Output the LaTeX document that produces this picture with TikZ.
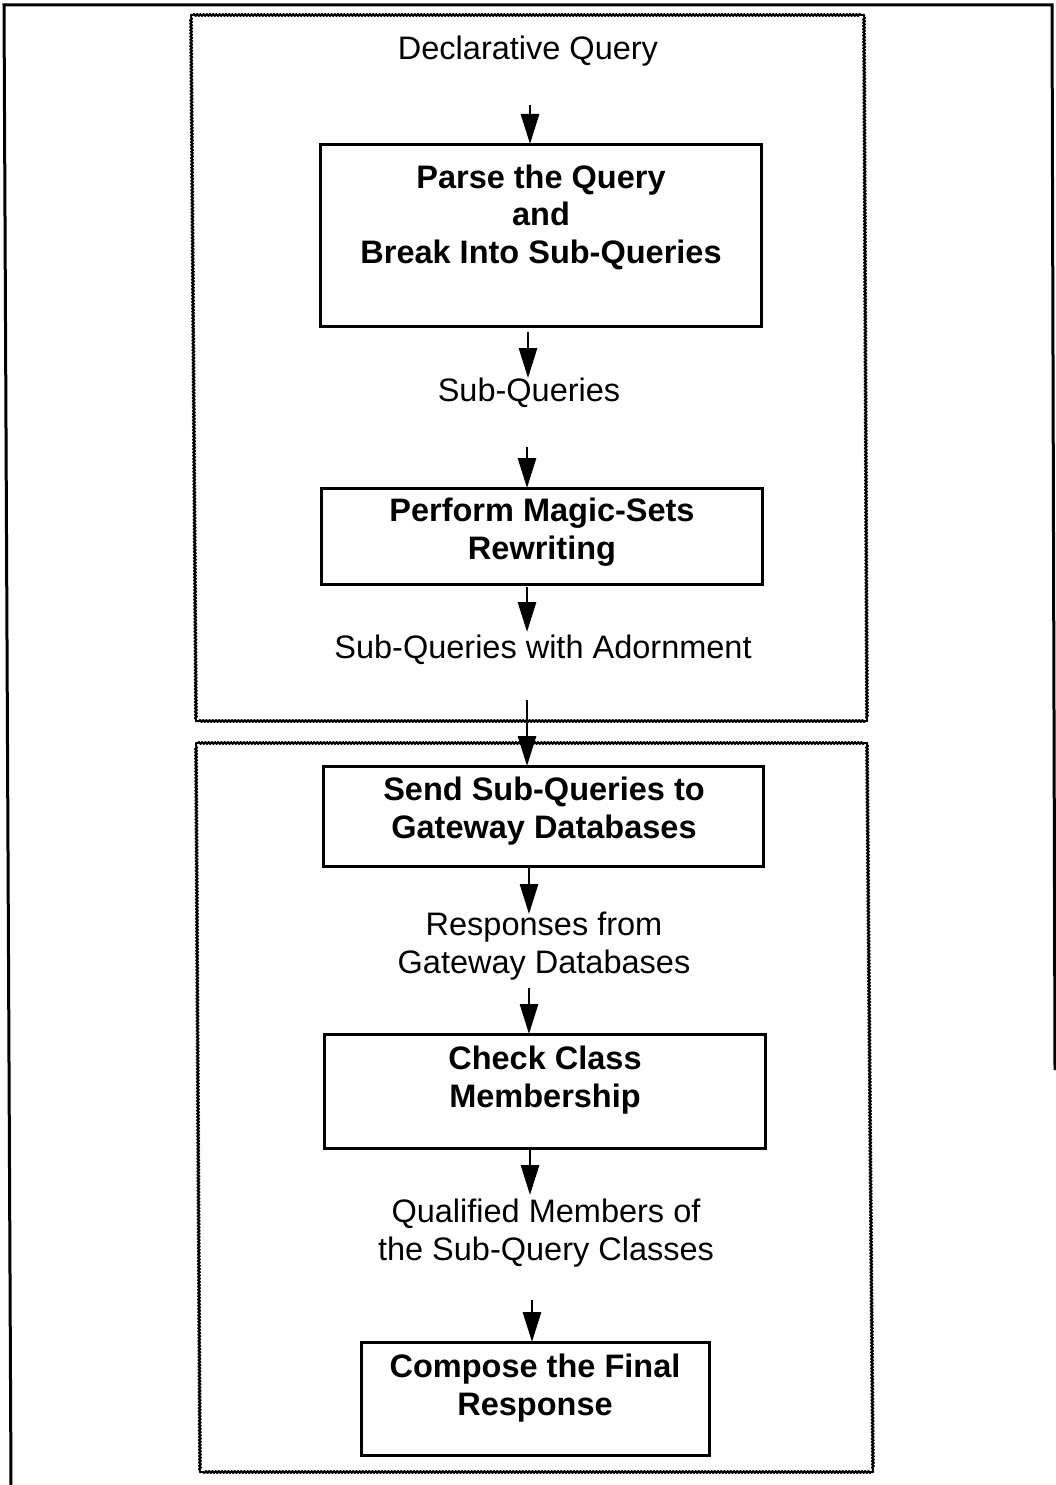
\documentclass[tikz,border=0pt]{standalone}
\usepackage{fontspec}
\setmainfont{Liberation Sans}
\usetikzlibrary{arrows.meta,decorations.pathmorphing}

\tikzset{
  frame/.style={line width=3pt, line join=miter},
  zone/.style={line width=2pt, line join=round, line cap=round, decorate,
    decoration={snake, amplitude=1pt, segment length=3.2pt,
      pre length=2pt, post length=2pt}},
  stepbox/.style={draw, line width=3pt, inner sep=0pt, outer sep=0pt},
  lbl/.style={font=\fontsize{32.5}{37.5}\selectfont, align=center,
    inner sep=0pt, anchor=base},
  hd/.style={lbl, font=\fontsize{32.5}{37.5}\selectfont\bfseries},
  arr/.style={line width=2.8pt, -{Triangle[length=30pt,width=18pt]}}
}

\begin{document}
\begin{tikzpicture}[x=1pt,y=-1pt]
\useasboundingbox (0,0) rectangle (1056,1485);

% page frame
\draw[frame] (11,1485) -- (4,5) -- (1052,5) -- (1055,1070);

% the two dotted zones, one side at a time
\foreach \a/\b in {{(191,15)}/{(864,15)}, {(864,15)}/{(867,721)},
                   {(867,721)}/{(196,721)}, {(196,721)}/{(191,15)},
                   {(196,743)}/{(867,743)}, {(867,743)}/{(873,1472)},
                   {(873,1472)}/{(200,1472)}, {(200,1472)}/{(196,743)}}
  \draw[zone] \a -- \b;

% process boxes
\node[stepbox, minimum width=441pt, minimum height=182pt] (p1) at (540.5,235) {};
\node[stepbox, minimum width=441pt, minimum height=96pt]  (p2) at (541.5,536) {};
\node[stepbox, minimum width=440pt, minimum height=100pt] (p3) at (543,816) {};
\node[stepbox, minimum width=441pt, minimum height=114pt] (p4) at (544.5,1091) {};
\node[stepbox, minimum width=348pt, minimum height=113pt] (p5) at (535,1398.5) {};

% box captions (anchored at the baseline of the last line)
\node[hd] (p1t) at (541,263)  {Parse the Query\\and\\Break Into Sub-Queries};
\node[hd] (p2t) at (542,559)  {Perform Magic-Sets\\Rewriting};
\node[hd] (p3t) at (544,838)  {Send Sub-Queries to\\Gateway Databases};
\node[hd] (p4t) at (545,1107) {Check Class\\Membership};
\node[hd] (p5t) at (535,1415) {Compose the Final\\Response};

% data labels
\node[lbl] (d0) at (528,60)   {Declarative Query};
\node[lbl] (d1) at (529,401)  {Sub-Queries};
\node[lbl] (d2) at (543,658)  {Sub-Queries with Adornment};
\node[lbl] (d3) at (544,973)  {Responses from\\Gateway Databases};
\node[lbl] (d4) at (546,1260) {Qualified Members of\\the Sub-Query Classes};

% arrow ends
\coordinate (c1) at (530,105);
\coordinate (c2) at (528,378);
\coordinate (c3) at (527,447);
\coordinate (c4) at (527,632);
\coordinate (c5) at (527,700);
\coordinate (c6) at (529,914);
\coordinate (c7) at (529,988);
\coordinate (c8) at (530,1195);
\coordinate (c9) at (532,1300);

% flow arrows
\draw[arr] (c1) -- (c1 |- p1.north);
\draw[arr, shorten <=6pt] (c2 |- p1.south) -- (c2);
\draw[arr] (c3) -- (c3 |- p2.north);
\draw[arr, shorten <=3pt] (c4 |- p2.south) -- (c4);
\draw[arr] (c5) -- (c5 |- p3.north);
\draw[arr, shorten <=2pt] (c6 |- p3.south) -- (c6);
\draw[arr] (c7) -- (c7 |- p4.north);
\draw[arr, shorten <=2pt] (c8 |- p4.south) -- (c8);
\draw[arr] (c9) -- (c9 |- p5.north);
\end{tikzpicture}
\end{document}
